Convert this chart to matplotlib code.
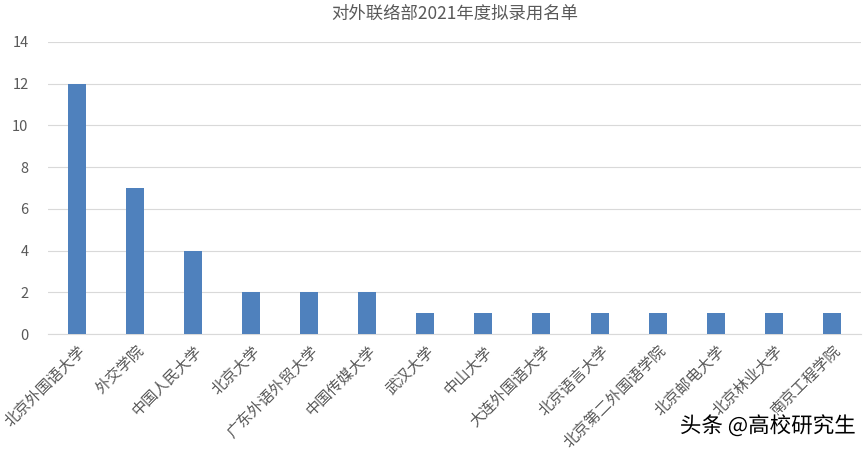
import matplotlib.pyplot as plt
import matplotlib.patheffects as pe
import numpy as np

plt.rcParams['font.family'] = ['Noto Sans CJK SC', 'DejaVu Sans']

schools = ['北京外国语大学', '外交学院', '中国人民大学', '北京大学', '广东外语外贸大学',
           '中国传媒大学', '武汉大学', '中山大学', '大连外国语大学', '北京语言大学',
           '北京第二外国语学院', '北京邮电大学', '北京林业大学', '南京工程学院']
counts = [12, 7, 4, 2, 2, 2, 1, 1, 1, 1, 1, 1, 1, 1]
title = '对外联络部2021年度拟录用名单'

fig = plt.figure(figsize=(8.66, 4.51), dpi=100)
ax = fig.add_axes([0.0554, 0.2594, 0.9386, 0.6475])

x = np.arange(len(schools))
ax.bar(x, counts, width=0.31, color='#4F81BD', zorder=3)

ax.set_xlim(-0.5, len(schools) - 0.5)
ax.set_ylim(0, 14)
ax.set_yticks(np.arange(0, 15, 2))
ax.grid(axis='y', color='#D9D9D9', linewidth=0.8, zorder=0)
for s in ['top', 'right', 'left']:
    ax.spines[s].set_visible(False)
ax.spines['bottom'].set_color('#D9D9D9')
ax.tick_params(axis='both', length=0, colors='#595959', labelsize=10.5)
ax.tick_params(axis='y', pad=14)
ax.tick_params(axis='x', pad=6)
ax.set_xticks(x)
ax.set_xticklabels(schools, rotation=45, ha='right', rotation_mode='anchor',
                   color='#595959', fontsize=11)

ax.set_title(title, fontsize=12.5, color='#595959', pad=17)

fig.text(0.988, 0.03, '头条 @高校研究生', ha='right', va='bottom', fontsize=15.5, color='black',
         path_effects=[pe.withStroke(linewidth=3, foreground='white')])

fig.savefig('out.png', dpi=100)
